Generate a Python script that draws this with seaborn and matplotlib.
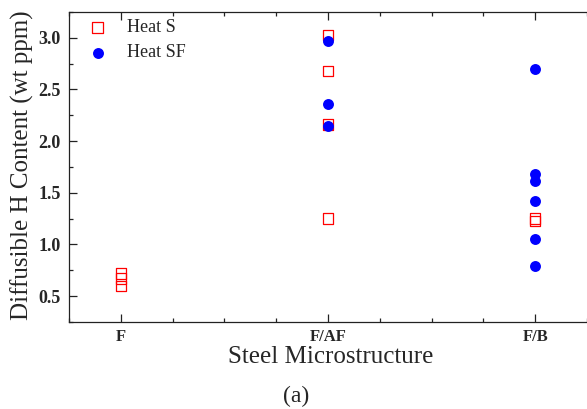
import pandas as pd
import matplotlib
matplotlib.use("Agg")
import matplotlib.pyplot as plt
import seaborn as sns
from matplotlib.ticker import MultipleLocator

# Data
structures = ["F", "F/AF", "F/B"]
heat_s_struct = ["F", "F", "F", "F/AF", "F/AF", "F/AF", "F/AF", "F/B", "F/B"]
heat_s_h = [0.72, 0.67, 0.60, 3.03, 2.68, 2.16, 1.25, 1.25, 1.23]
heat_sf_struct = ["F/AF", "F/AF", "F/AF", "F/B", "F/B", "F/B", "F/B", "F/B", "F/B"]
heat_sf_h = [2.97, 2.36, 2.15, 2.70, 1.68, 1.61, 1.42, 1.05, 0.79]

pos = {s: i + 1 for i, s in enumerate(structures)}
df_s = pd.DataFrame({"x": [pos[s] for s in heat_s_struct], "h": heat_s_h})
df_sf = pd.DataFrame({"x": [pos[s] for s in heat_sf_struct], "h": heat_sf_h})

sns.set_style("ticks")
plt.rcParams['font.family'] = ['Liberation Serif', 'DejaVu Serif']

fig = plt.figure(figsize=(5.87, 4.09), dpi=100)
ax = fig.add_axes([69 / 587, 1 - 322 / 409, 518 / 587, 310 / 409])

sns.scatterplot(data=df_s, x="x", y="h", ax=ax, marker="s", s=56,
                facecolors="none", edgecolor="red", linewidth=0.9, label="Heat S")
sns.scatterplot(data=df_sf, x="x", y="h", ax=ax, marker="o", s=62,
                color="blue", edgecolor="blue", linewidth=0, label="Heat SF")

ax.set_xlim(0.75, 3.25)
ax.set_ylim(0.25, 3.25)
ax.set_xticks([1, 2, 3])
ax.set_xticklabels(structures, fontweight="bold", fontsize=12)
ax.xaxis.set_minor_locator(MultipleLocator(0.25))
ax.yaxis.set_major_locator(MultipleLocator(0.5))
ax.yaxis.set_minor_locator(MultipleLocator(0.25))
for lbl in ax.get_yticklabels():
    lbl.set_fontweight("bold")
    lbl.set_fontsize(13)

ax.tick_params(which="both", direction="in", top=True, right=False, width=0.9, color="#222222")
ax.tick_params(which="major", length=6, pad=6)
ax.tick_params(which="minor", length=3)
ax.tick_params(axis="x", which="major", pad=5)

for sp in ["left", "top", "bottom"]:
    ax.spines[sp].set_linewidth(0.9)
    ax.spines[sp].set_color("#222222")
ax.spines["right"].set_visible(False)

ax.set_xlabel("Steel Microstructure", fontsize=18)
ax.xaxis.label.set_va("baseline")
ax.xaxis.set_label_coords(0.506, -0.131)
ax.set_ylabel("Diffusible H Content (wt ppm)", fontsize=18)
ax.yaxis.label.set_va("center")
ax.yaxis.set_label_coords(-0.0907, 0.505)

ax.legend(loc="upper left", bbox_to_anchor=(0.024, 1.0), frameon=False, fontsize=13,
          handlelength=1.0, handletextpad=1.12, labelspacing=0.45, borderaxespad=0.0)

fig.text(0.505, 0.017, "(a)", ha="center", va="baseline", fontsize=17)

fig.savefig("out.png", dpi=100)
